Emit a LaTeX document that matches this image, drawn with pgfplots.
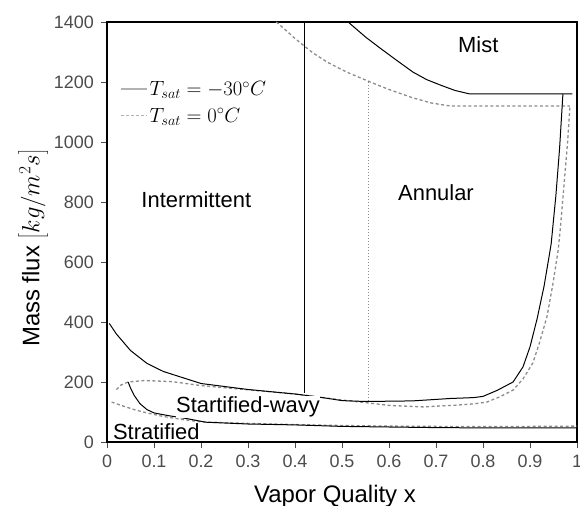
\documentclass[border=0pt]{standalone}
\usepackage{pgfplots}
\pgfplotsset{compat=1.18}
\usepackage{fontspec}
\setmainfont{Liberation Sans}

\definecolor{dashgray}{gray}{0.55}

\begin{document}
\begin{tikzpicture}
\begin{axis}[
  name=ax,
  scale only axis,
  width=470bp, height=420bp,
  xmin=0, xmax=1, ymin=0, ymax=1400,
  xtick={0,0.1,...,1.0},
  xticklabels={0,0.1,0.2,0.3,0.4,0.5,0.6,0.7,0.8,0.9,1},
  ytick={0,200,...,1400},
  /pgf/number format/1000 sep={},
  tick align=outside,
  tick pos=left,
  major tick length=6bp,
  line width=1.6bp,
  tick style={black!70, line width=0.8bp},
  /pgf/number format/assume math mode=true,
  ticklabel style={font=\fontsize{18}{20}\selectfont, text=black!70},
  xticklabel style={yshift=-3bp},
  yticklabel style={xshift=-3bp},
  clip=false,
  xlabel={Vapor Quality x},
  xlabel style={font=\fontsize{24}{26}\selectfont, at={(rel axis cs:0.485,-0.13)}, anchor=center},
  ylabel={Mass flux $\left[kg/m^{2}s\right]$},
  ylabel style={font=\fontsize{24}{26}\selectfont, at={(rel axis cs:-0.157,0.462)}, anchor=center, rotate=0},
  legend style={at={(rel axis cs:0.025,0.865)}, anchor=north west, draw=none, fill=none,
    font=\fontsize{22}{24}\selectfont, row sep=7bp, inner sep=0pt},
  legend cell align=left,
  legend image code/.code={\draw[#1] (0bp,0bp) -- (26bp,0bp);},
]
\addlegendimage{gray!60, line width=2bp}
\addlegendentry{$T_{sat}=-30^{\circ}C$}
\addlegendimage{gray!60, line width=1bp, dash pattern=on 3bp off 2bp}
\addlegendentry{$T_{sat}=0^{\circ}C$}

% ---- T_sat = 0 C (dashed) ----
% mist boundary
\addplot[dashgray, line width=1.3bp, dash pattern=on 3bp off 2.5bp] coordinates {
 (0.36,1400) (0.368,1390) (0.40,1345) (0.438,1297) (0.47,1265) (0.51,1233)
 (0.56,1200) (0.60,1175) (0.651,1147) (0.69,1130) (0.73,1120) (0.985,1120)};
% intermittent / annular transition
\addplot[dashgray, line width=1.2bp, dash pattern=on 1.5bp off 1.5bp] coordinates {
 (0.557,1200) (0.557,135)};
% stratified-wavy boundary and dryout
\addplot[dashgray, line width=1.3bp, dash pattern=on 3bp off 2.5bp] coordinates {
 (0.02,175) (0.03,190) (0.045,200) (0.08,205) (0.14,201) (0.2,188) (0.3,174)
 (0.4,160) (0.5,140) (0.557,130) (0.6,122) (0.672,117) (0.745,123) (0.78,127)
 (0.808,133) (0.835,150) (0.864,173) (0.885,210) (0.906,263) (0.92,330)
 (0.936,417) (0.948,520) (0.96,640) (0.965,720) (0.972,850) (0.98,1000) (0.985,1120)};
% stratified boundary
\addplot[dashgray, line width=1.3bp, dash pattern=on 3bp off 2.5bp] coordinates {
 (0.01,133) (0.03,122) (0.06,107) (0.085,97) (0.12,85) (0.16,75) (0.2,67)
 (0.3,62) (0.4,58) (0.5,55) (0.6,53) (0.7,52) (0.8,52) (0.9,52) (1,53)};

% ---- T_sat = -30 C (solid) ----
% mist boundary
\addplot[black, line width=1bp] coordinates {
 (0.513,1400) (0.55,1350) (0.581,1313) (0.62,1268) (0.651,1233) (0.68,1208)
 (0.709,1190) (0.74,1172) (0.772,1160) (0.99,1160)};
% intermittent / annular transition
\addplot[black, line width=1.1bp] coordinates {(0.421,1400) (0.421,165)};
% stratified-wavy boundary and dryout
\addplot[black, line width=1bp] coordinates {
 (0.005,395) (0.02,360) (0.05,305) (0.085,262) (0.12,235) (0.2,195) (0.3,175)
 (0.4,160) (0.45,150) (0.5,138) (0.55,135) (0.65,137) (0.73,145) (0.78,148)
 (0.80,152) (0.83,172) (0.864,200) (0.885,250) (0.90,317) (0.915,410)
 (0.93,520) (0.945,660) (0.955,820) (0.963,980) (0.97,1160)};
% stratified boundary
\addplot[black, line width=1bp] coordinates {
 (0.045,200) (0.05,180) (0.058,155) (0.07,128) (0.085,108) (0.1,97) (0.13,88)
 (0.17,78) (0.21,66) (0.3,60) (0.4,57) (0.5,52) (0.6,50) (0.7,48) (0.8,47)
 (0.9,47) (1,47)};

% region names
\node[font=\fontsize{22}{24}\selectfont] at (axis cs:0.19,807) {Intermittent};
\node[font=\fontsize{22}{24}\selectfont] at (axis cs:0.70,830) {Annular};
\node[font=\fontsize{22}{24}\selectfont] at (axis cs:0.79,1323) {Mist};
\node[font=\fontsize{22}{24}\selectfont, fill=white, inner sep=0.5bp] at (axis cs:0.30,117) {Startified-wavy};
\node[font=\fontsize{22}{24}\selectfont, inner sep=0.5bp] at (axis cs:0.105,35) {Stratified};
\end{axis}
\pgfresetboundingbox
\path[use as bounding box] ([shift={(-107bp,-64bp)}]ax.south west) rectangle ([shift={(3bp,22bp)}]ax.north east);
\end{tikzpicture}
\end{document}
